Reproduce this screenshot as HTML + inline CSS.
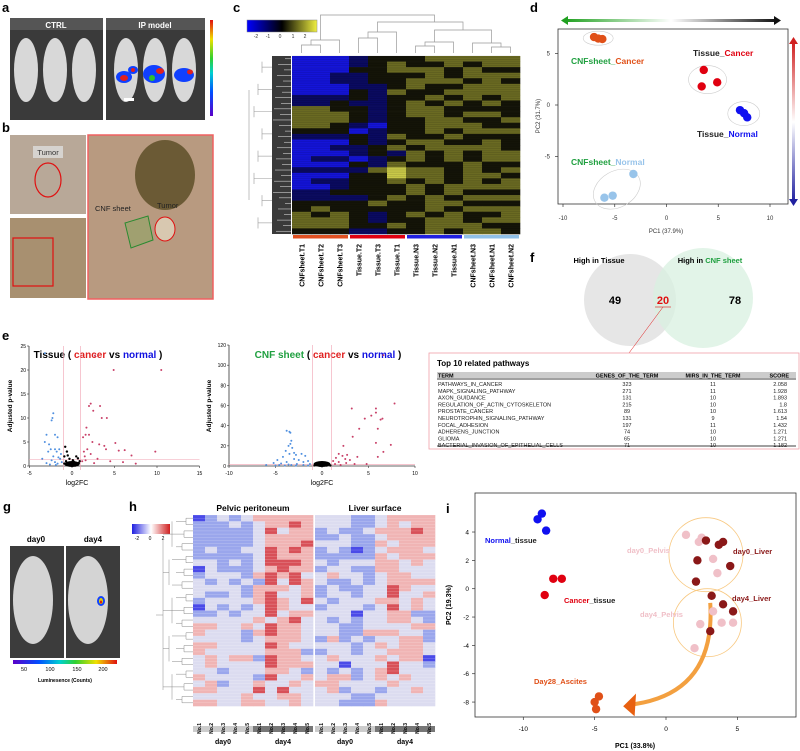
<!DOCTYPE html>
<html><head><meta charset="utf-8"><style>
html,body{margin:0;padding:0;background:#fff}
svg{display:block;font-family:"Liberation Sans",Arial,sans-serif}
</style></head><body>
<svg id="fig" width="800" height="751" viewBox="0 0 800 751" xmlns="http://www.w3.org/2000/svg">
<defs>
<linearGradient id="lumA" x1="0" y1="1" x2="0" y2="0"><stop offset="0" stop-color="#5a00c8"/><stop offset="0.25" stop-color="#0050ff"/><stop offset="0.45" stop-color="#00d0d0"/><stop offset="0.6" stop-color="#30d030"/><stop offset="0.8" stop-color="#f0e000"/><stop offset="1" stop-color="#e01010"/></linearGradient>
<linearGradient id="lumG" x1="0" y1="0" x2="1" y2="0"><stop offset="0" stop-color="#5a00c8"/><stop offset="0.25" stop-color="#0050ff"/><stop offset="0.45" stop-color="#00d0d0"/><stop offset="0.6" stop-color="#30d030"/><stop offset="0.8" stop-color="#f0e000"/><stop offset="1" stop-color="#e01010"/></linearGradient>
<linearGradient id="cbC" x1="0" y1="0" x2="1" y2="0"><stop offset="0" stop-color="#0000ff"/><stop offset="0.5" stop-color="#000"/><stop offset="1" stop-color="#f0f040"/></linearGradient>
<linearGradient id="cbH" x1="0" y1="0" x2="1" y2="0"><stop offset="0" stop-color="#2020e0"/><stop offset="0.5" stop-color="#fff"/><stop offset="1" stop-color="#d02020"/></linearGradient>
<linearGradient id="arH" x1="0" y1="0" x2="1" y2="0"><stop offset="0" stop-color="#20a020"/><stop offset="0.5" stop-color="#fff"/><stop offset="1" stop-color="#111"/></linearGradient>
<linearGradient id="arV" x1="0" y1="0" x2="0" y2="1"><stop offset="0" stop-color="#d02020"/><stop offset="0.5" stop-color="#fff"/><stop offset="1" stop-color="#2020a0"/></linearGradient>
</defs>

<!-- Panel a -->
<g>
<text x="2" y="12" font-size="13" font-weight="bold">a</text>
<rect x="10" y="18" width="93" height="102" fill="#3a3a3a"/>
<rect x="106" y="18" width="99" height="102" fill="#3a3a3a"/>
<rect x="10" y="18" width="93" height="12" fill="#555"/><rect x="106" y="18" width="99" height="12" fill="#555"/>
<text x="56" y="28" font-size="8" font-weight="bold" fill="#fff" text-anchor="middle">CTRL</text>
<text x="155" y="28" font-size="8" font-weight="bold" fill="#fff" text-anchor="middle">IP model</text>
<g fill="#d8d8d8">
<ellipse cx="26" cy="70" rx="12" ry="32"/><ellipse cx="55" cy="70" rx="12" ry="32"/><ellipse cx="84" cy="70" rx="12" ry="32"/>
<ellipse cx="126" cy="70" rx="12" ry="32"/><ellipse cx="155" cy="70" rx="12" ry="32"/><ellipse cx="184" cy="70" rx="12" ry="32"/>
</g>
<g><ellipse cx="124" cy="77" rx="8" ry="6" fill="#1040ff"/><ellipse cx="124" cy="78" rx="4" ry="3" fill="#e02020"/><ellipse cx="133" cy="70" rx="5" ry="4" fill="#1040ff"/><ellipse cx="133" cy="70" rx="2" ry="2" fill="#e02020"/>
<ellipse cx="154" cy="74" rx="11" ry="9" fill="#1040ff"/><ellipse cx="160" cy="71" rx="4" ry="3" fill="#e02020"/><ellipse cx="152" cy="78" rx="3" ry="3" fill="#30c030"/>
<ellipse cx="184" cy="75" rx="10" ry="7" fill="#1040ff"/><ellipse cx="190" cy="72" rx="3" ry="2.5" fill="#e02020"/></g>
<rect x="124" y="98" width="10" height="3" fill="#fff"/>
<rect x="210" y="20" width="3" height="96" fill="url(#lumA)"/>
</g>

<!-- Panel b -->
<g>
<text x="2" y="132" font-size="13" font-weight="bold">b</text>
<rect x="10" y="135" width="76" height="79" fill="#b8a898"/>
<ellipse cx="48" cy="180" rx="13" ry="17" fill="none" stroke="#e01010" stroke-width="1.2"/>
<rect x="33" y="146" width="30" height="12" fill="#ddd" opacity="0.8"/>
<text x="48" y="155" font-size="7.5" text-anchor="middle" fill="#333">Tumor</text>
<rect x="10" y="218" width="76" height="80" fill="#a89070"/>
<rect x="13" y="238" width="40" height="48" fill="none" stroke="#e01010" stroke-width="1.2"/>
<rect x="88" y="135" width="125" height="164" fill="#b89a80" stroke="#f06060" stroke-width="1.5"/>
<ellipse cx="165" cy="175" rx="30" ry="35" fill="#6b5a35"/>
<polygon points="125,223 148,216 153,240 131,248" fill="#a0a070" stroke="#2a8a30" stroke-width="1"/>
<ellipse cx="165" cy="229" rx="10" ry="12" fill="#d8c8b0" stroke="#e01010" stroke-width="1"/>
<text x="95" y="211" font-size="7.5" fill="#222">CNF sheet</text>
<text x="157" y="208" font-size="7.5" fill="#222">Tumor</text>
</g>

<!-- Panel c -->
<g id="pc">
<text x="233" y="12" font-size="13" font-weight="bold">c</text>
<rect x="247" y="20" width="70" height="12" fill="url(#cbC)" stroke="#888" stroke-width="0.5"/>
<g font-size="5" fill="#333" text-anchor="middle"><text x="256" y="38">-2</text><text x="268" y="38">-1</text><text x="280" y="38">0</text><text x="293" y="38">1</text><text x="305" y="38">2</text></g>
<rect x="272" y="56" width="19" height="178" fill="#3a3a3a"/>
</g>

<!-- Panel d -->
<g id="pd">
<text x="530" y="12" font-size="13" font-weight="bold">d</text>
<rect x="565" y="19" width="212" height="3" fill="url(#arH)"/>
<polygon points="561,20.5 568,16 568,25" fill="#20a020"/><polygon points="781,20.5 774,16 774,25" fill="#111"/>
<rect x="792" y="42" width="3" height="160" fill="url(#arV)"/>
<polygon points="793.5,37 789,44 798,44" fill="#d02020"/><polygon points="793.5,206 789,199 798,199" fill="#2020a0"/>
<rect x="558" y="29" width="230" height="175" fill="none" stroke="#333" stroke-width="0.8"/>
<text x="666" y="233" font-size="6" text-anchor="middle" fill="#333">PC1 (37.9%)</text>
<text x="540" y="116" font-size="6" text-anchor="middle" fill="#333" transform="rotate(-90 540 116)">PC2 (31.7%)</text>
</g>

<!-- Panel e -->
<g id="pe">
<text x="2" y="340" font-size="13" font-weight="bold">e</text>
<text x="98" y="358" font-size="10" font-weight="bold" text-anchor="middle">Tissue ( <tspan fill="#e02020">cancer</tspan> vs <tspan fill="#1010e0">normal</tspan> )</text>
<text x="328" y="358" font-size="10" font-weight="bold" text-anchor="middle"><tspan fill="#20a040">CNF sheet</tspan> ( <tspan fill="#e02020">cancer</tspan> vs <tspan fill="#1010e0">normal</tspan> )</text>
<text x="12" y="406" font-size="6.5" font-weight="bold" text-anchor="middle" transform="rotate(-90 12 406)">Adjusted p-value</text>
<text x="211" y="406" font-size="6.5" font-weight="bold" text-anchor="middle" transform="rotate(-90 211 406)">Adjusted p-value</text>
<text x="77" y="485" font-size="7" text-anchor="middle">log2FC</text>
<text x="322" y="485" font-size="7" text-anchor="middle">log2FC</text>
</g>

<!-- Panel f -->
<g>
<text x="530" y="262" font-size="13" font-weight="bold">f</text>
<circle cx="630" cy="300" r="46" fill="#e6e6e6"/>
<circle cx="703" cy="298" r="50" fill="#d8f0e0" opacity="0.75"/>
<text x="599" y="263" font-size="7.5" font-weight="bold" text-anchor="middle">High in Tissue</text>
<text x="710" y="263" font-size="7.5" font-weight="bold" text-anchor="middle">High in <tspan fill="#20a040">CNF sheet</tspan></text>
<text x="615" y="304" font-size="11" font-weight="bold" text-anchor="middle">49</text>
<text x="663" y="304" font-size="11" font-weight="bold" text-anchor="middle" fill="#e01010">20</text>
<text x="735" y="304" font-size="11" font-weight="bold" text-anchor="middle">78</text>
<line x1="655" y1="307" x2="671" y2="307" stroke="#e01010" stroke-width="0.6"/>
<line x1="663" y1="307" x2="629" y2="353" stroke="#e01010" stroke-width="0.5"/>
</g>

<!-- Table -->
<g id="tbl">
<rect x="429" y="353" width="370" height="96" fill="#fff" stroke="#f0a0a8" stroke-width="0.8"/>
<text x="437" y="366" font-size="8" font-weight="bold">Top 10 related pathways</text>
<rect x="437" y="372" width="359" height="6" fill="#ccc"/>
<line x1="437" y1="379" x2="796" y2="379" stroke="#000" stroke-width="0.8"/>
<line x1="437" y1="446" x2="796" y2="446" stroke="#000" stroke-width="0.8"/>
<g font-size="5.5" font-weight="bold"><text x="438" y="377.5">TERM</text><text x="627" y="377.5" text-anchor="middle">GENES_OF_THE_TERM</text><text x="713" y="377.5" text-anchor="middle">MIRS_IN_THE_TERM</text><text x="789" y="377.5" text-anchor="end">SCORE</text></g>
</g>

<!-- Panel g -->
<g>
<text x="3" y="511" font-size="13" font-weight="bold">g</text>
<text x="36" y="542" font-size="8" font-weight="bold" text-anchor="middle">day0</text>
<text x="93" y="542" font-size="8" font-weight="bold" text-anchor="middle">day4</text>
<rect x="10" y="546" width="54" height="112" fill="#3c3c3c"/>
<rect x="66" y="546" width="54" height="112" fill="#3c3c3c"/>
<ellipse cx="33" cy="600" rx="20" ry="44" fill="#d4d4d4"/><ellipse cx="88" cy="600" rx="20" ry="44" fill="#d4d4d4"/>
<ellipse cx="101" cy="601" rx="4" ry="5" fill="#1040ff"/><ellipse cx="101" cy="601" rx="2" ry="3" fill="#e0d000"/><ellipse cx="101" cy="602" rx="1" ry="1.5" fill="#e01010"/>
<rect x="13" y="660" width="104" height="4" fill="url(#lumG)"/>
<g font-size="5.5" text-anchor="middle"><text x="24" y="671">50</text><text x="50" y="671">100</text><text x="77" y="671">150</text><text x="103" y="671">200</text></g>
<text x="65" y="682" font-size="5" font-weight="bold" text-anchor="middle">Luminesence (Counts)</text>
</g>

<!-- Panel h -->
<g id="ph">
<text x="129" y="511" font-size="13" font-weight="bold">h</text>
<text x="253" y="511" font-size="8.5" font-weight="bold" text-anchor="middle">Pelvic peritoneum</text>
<text x="375" y="511" font-size="8.5" font-weight="bold" text-anchor="middle">Liver surface</text>
<rect x="132" y="524" width="38" height="10" fill="url(#cbH)"/>
<g font-size="5" text-anchor="middle"><text x="137" y="540">-2</text><text x="150" y="540">0</text><text x="163" y="540">2</text></g>
<rect x="193" y="726" width="60" height="6" fill="#ccc"/><rect x="253" y="726" width="60" height="6" fill="#777"/>
<rect x="315" y="726" width="60" height="6" fill="#ccc"/><rect x="375" y="726" width="60" height="6" fill="#777"/>
<g font-size="7" font-weight="bold" text-anchor="middle"><text x="223" y="744">day0</text><text x="283" y="744">day4</text><text x="345" y="744">day0</text><text x="405" y="744">day4</text></g>
</g>

<!-- Panel i -->
<g id="pi">
<text x="446" y="513" font-size="13" font-weight="bold">i</text>
<rect x="475" y="493" width="321" height="224" fill="none" stroke="#333" stroke-width="0.8"/>
<text x="635" y="748" font-size="7" font-weight="bold" text-anchor="middle">PC1 (33.8%)</text>
<text x="451" y="605" font-size="7" font-weight="bold" text-anchor="middle" transform="rotate(-90 451 605)">PC2 (19.3%)</text>
</g>
</svg>
<script>
const NS='http://www.w3.org/2000/svg';
function mk(tag,parent,attrs){const e=document.createElementNS(NS,tag);for(const k in attrs)e.setAttribute(k,attrs[k]);parent.appendChild(e);return e;}

// ---------- Panel c heatmap data (digits 0..4 => -2..2) ----------
const cCols=['CNFsheet.T1','CNFsheet.T2','CNFsheet.T3','Tissue.T2','Tissue.T3','Tissue.T1','Tissue.N3','Tissue.N2','Tissue.N1','CNFsheet.N3','CNFsheet.N1','CNFsheet.N2'];
const cRows=['000122233333','000123223233','000223332322','001122232333','001122333232','000112322333','000213223333','111212232323','112112323232','332212332222','333212332332','333212233223','332102233322','222012232333','111213223222','000212332232','001123233332','000121323233','011012323233','000213222322','111134332323','000224332332','011223232323','001222323333','112222323222','111123232333','222232233222','232222232333','323212323223','333212233233','333223233322','222112232332'];
const cGroupColors=['#e05020','#e00010','#2020e0','#90c0e8'];

// ---------- Panel d PCA data ----------
const dCnfCancer=[[-7,6.6],[-6.6,6.45],[-6.2,6.4]];
const dTissueCancer=[[3.6,3.4],[4.9,2.2],[3.4,1.8]];
const dTissueNormal=[[7.1,-0.5],[7.5,-0.8],[7.8,-1.2]];
const dCnfNormal=[[-3.2,-6.7],[-5.2,-8.8],[-6,-9]];
const dXTicks=[-10,-5,0,5,10];
const dYTicks=[5,0,-5];

// ---------- Panel e volcano data ----------
const v1Blue=[[-3.2,23.5],[-2.2,11],[-2.3,10],[-2.4,9.5],[-3,6.5],[-2,6.5],[-1.7,6],[-3.2,5],[-2.7,4.5],[-2.5,3.5],[-2,3.5],[-1.5,3.5],[-2.8,3],[-1.8,3],[-1.3,2.5],[-2.2,2],[-1.6,1.8],[-3.5,1.5],[-2.4,1.2],[-1.4,1.5],[-2,0.8],[-1.2,0.8],[-3,0.6],[-1.7,0.5],[-2.6,0.3],[-1.9,0.2]];
const v1Red=[[2.7,23],[4.9,20],[10.5,20],[2,12.5],[2.2,13],[3.3,12.5],[2.5,11.5],[3.5,10],[4.1,10],[1.7,8],[1.6,6.5],[2,6.5],[1.3,6],[2.4,5],[3.2,4.5],[3.8,4.2],[4,3.5],[5.1,4.8],[5.5,3.2],[6.2,3.3],[7,2.2],[9.8,3],[1.8,3.5],[2.2,2.5],[1.5,2],[3,1.5],[4.5,1],[6,0.8],[7.5,0.5],[1.2,1],[1.4,3],[1.6,1.2],[2.6,0.6]];
const v1Black=[[-0.8,4],[-0.6,3],[-0.5,2.2],[-0.9,2],[-0.3,1.5],[0.1,1.2],[0.5,2],[0.7,1.6],[0.9,1],[-0.7,1],[-0.2,0.6],[0.3,0.5],[0,0.2],[-0.4,0.3],[0.6,0.3],[0.8,0.6],[-0.9,0.5],[0.2,0.9],[-0.1,0.4],[0.4,0.1]];
const v2Blue=[[-3.8,35],[-3.5,34],[-3.4,33],[-3.3,25],[-3.4,22],[-3.6,20],[-3.2,18],[-3.9,15],[-3,13],[-3.5,12],[-2.8,11],[-2.2,12],[-1.8,10],[-4.2,9],[-4.8,6],[-3,7],[-2.5,6],[-1.5,5],[-2,4],[-3.8,4],[-5.2,3],[-4.4,2.5],[-2.7,2],[-1.3,2],[-6,1],[-3.3,1],[-2,1],[-5,0.5],[-1.5,0.5],[-4,0.5],[-2.8,0.4],[-3.6,1.5],[-4.6,1]];
const v2Red=[[6.6,110],[7.8,62],[5.8,57],[3.2,57],[5.8,53],[5.3,50],[4.6,47],[6.5,47],[6.3,46],[4,37],[6,37],[3.3,29],[5.8,23],[7.4,21],[6.6,14],[2.3,20],[1.8,12],[2.7,11],[2.2,10],[1.5,8],[2.5,7],[3,6],[1.2,5],[1.8,4],[2.6,3],[3.5,2],[4.8,2],[1.4,2],[2,1],[6,9],[3.8,9]];
const v2Black=[[-0.6,2],[-0.3,1.2],[0,0.8],[0.3,1],[0.7,1.8],[-0.8,0.6],[0.5,0.4],[-0.2,0.3],[0.9,0.5]];
const v1XTicks=[-5,0,5,10,15];
const v1YTicks=[0,5,10,15,20,25];
const v2XTicks=[-10,-5,0,5,10];
const v2YTicks=[0,20,40,60,80,100,120];

// ---------- Table data ----------
const tTerms=['PATHWAYS_IN_CANCER','MAPK_SIGNALING_PATHWAY','AXON_GUIDANCE','REGULATION_OF_ACTIN_CYTOSKELETON','PROSTATE_CANCER','NEUROTROPHIN_SIGNALING_PATHWAY','FOCAL_ADHESION','ADHERENS_JUNCTION','GLIOMA','BACTERIAL_INVASION_OF_EPITHELIAL_CELLS'];
const tGenes=[323,271,131,215,89,131,197,74,65,71];
const tMirs=[11,11,10,10,10,9,11,10,10,10];
const tScores=['2.058','1.928','1.893','1.8','1.613','1.54','1.432','1.271','1.271','1.182'];

// ---------- Panel h heatmap (digits 0..4 => -2..2), 10 cols each ----------
const hPelvic=['0121233333','1112123343','1111124233','1111123333','1111123334','1211224343','1111124333','2212124443','0211123433','1222134342','2121214243','2222133323','2112134223','1222234324','0212124322','1121224233','2222232342','3322324332','3222134332','2222123332','3322224322','3222223331','2323314332','2322224333','2212223321','3222214223','2312232232','3322242422','2222322332','3322332232'];
const hLiver=['2221123333','2221123233','1211233343','1121123333','2221132333','1210123332','1111132333','2122233232','1221133222','2322123322','2112123333','1211224322','1221224223','2122233232','1222124232','2220223311','2121223321','2211222233','2211333221','1312122331','2221232332','1221223332','2322232330','2202224221','2121234222','2331232322','3322223222','2312212232','2221122222','2211132222'];
const hColLabels=['No.1','No.2','No.3','No.4','No.5','No.1','No.2','No.3','No.4','No.5'];

// ---------- Panel i PCA data ----------
const iNormal=[[-8.7,5.3],[-9,4.9],[-8.4,4.1]];
const iCancer=[[-7.9,0.7],[-7.3,0.7],[-8.5,-0.45]];
const iDay0Pelvis=[[1.4,3.8],[2.5,3.6],[2.3,3.3],[3.3,2.1],[3.6,1.1]];
const iDay0Liver=[[2.8,3.4],[4,3.3],[3.7,3.1],[2.2,2],[4.5,1.6],[2.1,0.5]];
const iDay4Liver=[[3.2,-0.5],[4,-1.1],[4.7,-1.6],[3.1,-3]];
const iDay4Pelvis=[[3.3,-1.6],[2.4,-2.5],[3.9,-2.4],[4.7,-2.4],[2,-4.2]];
const iAscites=[[-4.7,-7.6],[-5,-8],[-4.9,-8.5]];
const iXTicks=[-10,-5,0,5];
const iYTicks=[4,2,0,-2,-4,-6,-8];

// ===== Panel c =====
(function(){
 const g=document.getElementById('pc');
 const x0=292,y0=56,w=228,h=178,cw=w/cCols.length,rh=h/cRows.length;
 const pal=['#1414d8','#0a0a60','#141408','#6a6a22','#c8c848'];
 cRows.forEach((row,r)=>{for(let c=0;c<cCols.length;c++){
  const e=mk('rect',g,{x:x0+c*cw,y:y0+r*rh,width:cw+0.3,height:rh+0.3,fill:pal[+row[c]]});
  
  
 }});
 for(let r=0;r<cRows.length*3;r++){mk('line',g,{x1:x0,y1:y0+r*rh/3,x2:x0+w,y2:y0+r*rh/3,stroke:'#000','stroke-width':0.25,opacity:0.35});}
 for(let r=0;r<cRows.length;r++){const L=6+((r*7)%13);mk('line',g,{x1:291,y1:y0+(r+0.5)*rh,x2:291-L,y2:y0+(r+0.5)*rh,stroke:'#eee','stroke-width':0.5});}
 for(let k=0;k<8;k++){const yy=y0+k*rh*4;mk('line',g,{x1:262-k%3*4,y1:yy+rh,x2:262-k%3*4,y2:yy+rh*3,stroke:'#999','stroke-width':0.6});mk('line',g,{x1:262-k%3*4,y1:yy+rh*2,x2:272,y2:yy+rh*2,stroke:'#999','stroke-width':0.6});}
 mk('line',g,{x1:249,y1:90,x2:249,y2:200,stroke:'#999','stroke-width':0.6});
 const cx=c=>x0+(c+0.5)*cw;
 const st={stroke:'#999','stroke-width':0.7,fill:'none'};
 function br(a,b,ya,yb,top){mk('path',g,Object.assign({d:`M${a},${ya}V${top}H${b}V${yb}`},st));}
 br(cx(0),cx(1),53,53,45);br((cx(0)+cx(1))/2,cx(2),45,53,40);
 br(cx(3),cx(4),53,53,38);br((cx(3)+cx(4))/2,cx(5),38,53,32);
 br(cx(6),cx(7),53,53,46);br((cx(6)+cx(7))/2,cx(8),46,53,42);
 br(cx(10),cx(11),53,53,47);br(cx(9),(cx(10)+cx(11))/2,53,47,43);
 br((cx(6)+cx(8))/2,(cx(9)+cx(11))/2,42,43,30);
 br((cx(3)+cx(5))/2,(cx(6)+cx(11))/2,32,30,22);
 br((cx(0)+cx(2))/2,(cx(3)+cx(11))/2,40,22,15);
 for(let gi=0;gi<4;gi++){const e=mk('rect',g,{x:x0+gi*3*cw+1,y:235,width:3*cw-2,height:3.5,fill:cGroupColors[gi]});
  
  }
 cCols.forEach((n,c)=>{const t=mk('text',g,{x:cx(c)+3,y:244,'font-size':7,'font-weight':'bold','text-anchor':'end',transform:`rotate(-90 ${cx(c)+3} 244)`});t.textContent=n;
  
  });
})();

// ===== Panel d =====
(function(){
 const g=document.getElementById('pd');
 const sx=v=>666.5+v*10.35, sy=v=>105-v*10.3;
 dXTicks.forEach(v=>{mk('line',g,{x1:sx(v),y1:204,x2:sx(v),y2:207,stroke:'#333','stroke-width':0.7});const t=mk('text',g,{x:sx(v),y:220,'font-size':6,'text-anchor':'middle',fill:'#333'});t.textContent=v;});
 dYTicks.forEach(v=>{mk('line',g,{x1:555,y1:sy(v),x2:558,y2:sy(v),stroke:'#333','stroke-width':0.7});const t=mk('text',g,{x:550,y:sy(v)+2,'font-size':6,'text-anchor':'end',fill:'#333'});t.textContent=v;});
 const ell=[[dCnfCancer,15,7],[dTissueCancer,19,14],[dTissueNormal,16,12],[dCnfNormal,25,18]];
 ell.forEach(([p,rx,ry])=>{const mx=p.reduce((a,b)=>a+b[0],0)/p.length,my=p.reduce((a,b)=>a+b[1],0)/p.length;mk('ellipse',g,{cx:sx(mx),cy:sy(my),rx:rx,ry:ry,fill:'none',stroke:'#ccc','stroke-width':0.6,transform:p===dCnfNormal?`rotate(-30 ${sx(mx)} ${sy(my)})`:''});});
 [[dCnfCancer,'#e05018'],[dTissueCancer,'#e00010'],[dTissueNormal,'#1010f0'],[dCnfNormal,'#98c4ea']].forEach(([p,c])=>p.forEach(q=>{const e=mk('circle',g,{cx:sx(q[0]),cy:sy(q[1]),r:4.2,fill:c});
  
  }));
 const labs=[[571,64,'CNFsheet_','#20a040','Cancer','#e05018'],[693,56,'Tissue_','#222','Cancer','#e00010'],[697,137,'Tissue_','#222','Normal','#1010f0'],[571,165,'CNFsheet_','#20a040','Normal','#98c4ea']];
 labs.forEach(l=>{const t=mk('text',g,{x:l[0],y:l[1],'font-size':8.5,'font-weight':'bold'});t.innerHTML=`<tspan fill="${l[3]}">${l[2]}</tspan><tspan fill="${l[5]}">${l[4]}</tspan>`;
  
  });
})();

// ===== Panel e =====
(function(){
 const g=document.getElementById('pe');
 function volcano(ox,xs,zeroX,yz,ys,xt,yt,blue,red,black,cb,cr,th){
  const sx=v=>zeroX+v*xs, sy=v=>yz-v*ys;
  const xb=sx(xt[xt.length-1]);
  mk('line',g,{x1:ox,y1:sy(yt[yt.length-1]),x2:ox,y2:yz,stroke:'#333','stroke-width':0.8});
  mk('line',g,{x1:ox,y1:yz,x2:xb,y2:yz,stroke:'#333','stroke-width':0.8});
  mk('line',g,{x1:sx(-1),y1:sy(yt[yt.length-1]),x2:sx(-1),y2:yz+4,stroke:'#f0a0b0','stroke-width':0.6});
  mk('line',g,{x1:sx(1),y1:sy(yt[yt.length-1]),x2:sx(1),y2:yz+4,stroke:'#f0a0b0','stroke-width':0.6});
  mk('line',g,{x1:ox,y1:sy(th),x2:xb,y2:sy(th),stroke:'#f0a0b0','stroke-width':0.6});
  xt.forEach(v=>{mk('line',g,{x1:sx(v),y1:yz,x2:sx(v),y2:yz+2,stroke:'#333','stroke-width':0.6});const t=mk('text',g,{x:sx(v),y:yz+9,'font-size':5,'text-anchor':'middle'});t.textContent=v;});
  yt.forEach(v=>{mk('line',g,{x1:ox-2,y1:sy(v),x2:ox,y2:sy(v),stroke:'#333','stroke-width':0.6});const t=mk('text',g,{x:ox-3,y:sy(v)+2,'font-size':5,'text-anchor':'end'});t.textContent=v;});
  [[black,'#000',1.2],[blue,cb,1],[red,cr,1]].forEach(([p,c,r])=>p.forEach(q=>{const e=mk('circle',g,{cx:sx(q[0]),cy:sy(q[1]),r:r,fill:c});
   
   }));
  mk('ellipse',g,{cx:sx(0),cy:yz-2,rx:xs*0.9,ry:3,fill:'#000'});
 }
 volcano(29,8.5,72,466,4.8,v1XTicks,v1YTicks,v1Blue,v1Red,v1Black,'#5090e0','#c84068',1.3);
 volcano(229,9.3,322,466,1.008,v2XTicks,v2YTicks,v2Blue,v2Red,v2Black,'#5090e0','#c84068',1.3);
})();

// ===== Table =====
(function(){
 const g=document.getElementById('tbl');
 tTerms.forEach((term,i)=>{const y=386+i*6.8;
  const r=mk('g',g,{'font-size':5.5,fill:'#222'});
  
  
  const a=mk('text',r,{x:438,y:y});a.textContent=term;
  const b=mk('text',r,{x:627,y:y,'text-anchor':'middle'});b.textContent=tGenes[i];
  const c=mk('text',r,{x:713,y:y,'text-anchor':'middle'});c.textContent=tMirs[i];
  const d=mk('text',r,{x:787,y:y,'text-anchor':'end'});d.textContent=tScores[i];
 });
})();

// ===== Panel h =====
(function(){
 const g=document.getElementById('ph');
 const pal=['#4a4ae8','#9aa6ec','#dcdcf0','#f0b4b4','#d85058'];
 const y0=515,h=191,rh=h/hPelvic.length;
 [[hPelvic,193],[hLiver,315]].forEach(([data,x0])=>{const cw=120/10;
  data.forEach((row,r)=>{for(let c=0;c<10;c++){const e=mk('rect',g,{x:x0+c*cw,y:y0+r*rh,width:cw+0.3,height:rh+0.3,fill:pal[+row[c]]});
   
   }});
  for(let r=0;r<data.length*2;r++){mk('line',g,{x1:x0,y1:y0+r*rh/2,x2:x0+120,y2:y0+r*rh/2,stroke:'#fff','stroke-width':0.3,opacity:0.5});}
  hColLabels.forEach((n,c)=>{const xx=x0+(c+0.5)*cw+2;const t=mk('text',g,{x:xx,y:723,'font-size':5,'font-weight':'bold','text-anchor':'end',transform:`rotate(-90 ${xx} 723)`});t.textContent=n;
   
   });
 });
 const st={stroke:'#888','stroke-width':0.5,fill:'none'};
 for(let r=0;r<hPelvic.length;r+=2){const ya=y0+(r+0.5)*rh,yb=y0+(r+1.5)*rh;const xx=186-(r%6);mk('path',g,Object.assign({d:`M193,${ya}H${xx}V${yb}H193`},st));mk('line',g,Object.assign({x1:xx,y1:(ya+yb)/2,x2:176-(r%4)*2,y2:(ya+yb)/2},st));}
 for(let k=0;k<5;k++){const ya=y0+(k*6+1)*rh,yb=y0+(k*6+5)*rh;mk('line',g,Object.assign({x1:172-k%2*3,y1:ya,x2:172-k%2*3,y2:yb},st));mk('line',g,Object.assign({x1:163,y1:(ya+yb)/2,x2:172-k%2*3,y2:(ya+yb)/2},st));}
 mk('line',g,Object.assign({x1:163,y1:540,x2:163,y2:690},st));mk('line',g,Object.assign({x1:156,y1:615,x2:163,y2:615},st));
})();

// ===== Panel i =====
(function(){
 const g=document.getElementById('pi');
 const sx=v=>666+v*14.27, sy=v=>588.7-v*14.17;
 iXTicks.forEach(v=>{mk('line',g,{x1:sx(v),y1:717,x2:sx(v),y2:720,stroke:'#333','stroke-width':0.7});const t=mk('text',g,{x:sx(v),y:731,'font-size':6.5,'text-anchor':'middle'});t.textContent=v;});
 iYTicks.forEach(v=>{mk('line',g,{x1:472,y1:sy(v),x2:475,y2:sy(v),stroke:'#333','stroke-width':0.7});const t=mk('text',g,{x:469,y:sy(v)+2.5,'font-size':6.5,'text-anchor':'end'});t.textContent=v;});
 mk('circle',g,{cx:sx(2.8),cy:sy(2.4),r:37,fill:'none',stroke:'#f8c880','stroke-width':0.8});
 mk('circle',g,{cx:sx(2.9),cy:sy(-2.4),r:34,fill:'none',stroke:'#f8c880','stroke-width':0.8});
 mk('path',g,{d:`M${sx(3.1)},${sy(-1)} Q${sx(3.5)},${sy(-7.5)} ${sx(-2.6)},${sy(-8.2)}`,fill:'none',stroke:'#f3a040','stroke-width':4});
 mk('polygon',g,{points:`${sx(-3)},${sy(-8.3)} ${sx(-2.1)},${sy(-7.4)} ${sx(-2.2)},${sy(-9)}`,fill:'#e86010'});
 [[iNormal,'#1010f0'],[iCancer,'#e00010'],[iDay0Pelvis,'#f0c0c8'],[iDay0Liver,'#8a1818'],[iDay4Liver,'#8a1818'],[iDay4Pelvis,'#f0c0c8'],[iAscites,'#e05018']].forEach(([p,c])=>p.forEach(q=>{const e=mk('circle',g,{cx:sx(q[0]),cy:sy(q[1]),r:4.2,fill:c});
  
  }));
 const labs=[[485,543,'Normal','#1010f0','_tissue','#222'],[564,603,'Cancer','#e00010','_tissue','#222'],[627,553,'day0_Pelvis','#f0c0c8','',''],[733,554,'day0_Liver','#8a1818','',''],[732,601,'day4_Liver','#8a1818','',''],[640,617,'day4_Pelvis','#f0c0c8','',''],[534,684,'Day28_Ascites','#e05018','','']];
 labs.forEach(l=>{const t=mk('text',g,{x:l[0],y:l[1],'font-size':7.5,'font-weight':'bold'});t.innerHTML=`<tspan fill="${l[3]}">${l[2]}</tspan>`+(l[4]?`<tspan fill="${l[5]}">${l[4]}</tspan>`:'');
  
  });
})();
</script>
</body></html>
